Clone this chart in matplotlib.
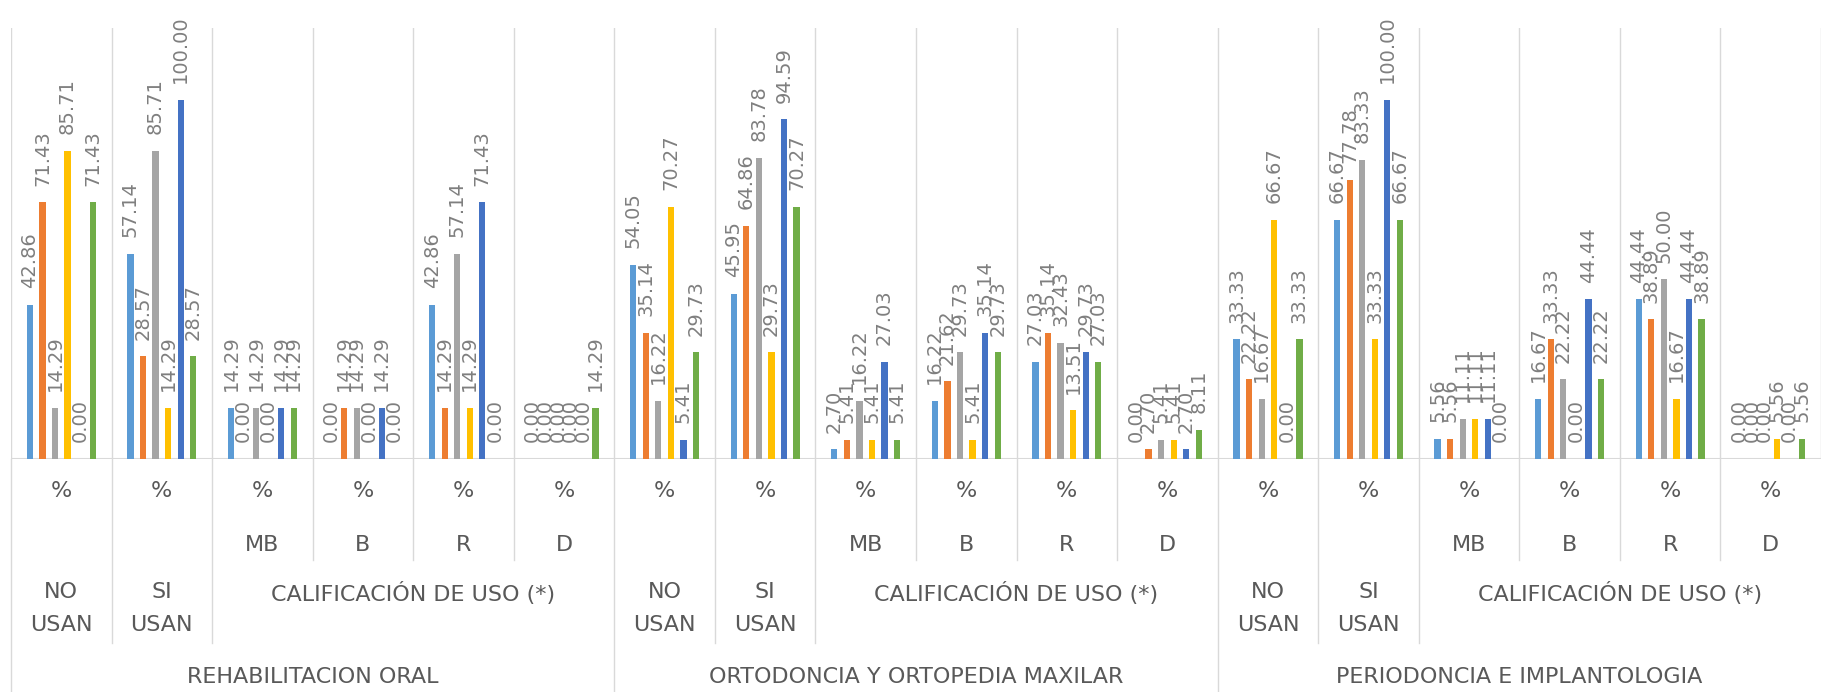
import numpy as np
import matplotlib
matplotlib.use("Agg")
import matplotlib.pyplot as plt
from matplotlib.transforms import blended_transform_factory
from matplotlib.lines import Line2D

specialties = ["REHABILITACION ORAL", "ORTODONCIA Y ORTOPEDIA MAXILAR", "PERIODONCIA E IMPLANTOLOGIA"]
uso_labels = ["NO\nUSAN", "SI\nUSAN", "CALIFICACIÓN DE USO (*)"]
calif_labels = ["", "", "MB", "B", "R", "D"]
unit_label = "%"

serie_1 = [42.86, 57.14, 14.29, 0.00, 42.86, 0.00, 54.05, 45.95, 2.70, 16.22, 27.03, 0.00, 33.33, 66.67, 5.56, 16.67, 44.44, 0.00]
serie_2 = [71.43, 28.57, 0.00, 14.29, 14.29, 0.00, 35.14, 64.86, 5.41, 21.62, 35.14, 2.70, 22.22, 77.78, 5.56, 33.33, 38.89, 0.00]
serie_3 = [14.29, 85.71, 14.29, 14.29, 57.14, 0.00, 16.22, 83.78, 16.22, 29.73, 32.43, 5.41, 16.67, 83.33, 11.11, 22.22, 50.00, 0.00]
serie_4 = [85.71, 14.29, 0.00, 0.00, 14.29, 0.00, 70.27, 29.73, 5.41, 5.41, 13.51, 5.41, 66.67, 33.33, 11.11, 0.00, 16.67, 5.56]
serie_5 = [0.00, 100.00, 14.29, 14.29, 71.43, 0.00, 5.41, 94.59, 27.03, 35.14, 29.73, 2.70, 0.00, 100.00, 11.11, 44.44, 44.44, 0.00]
serie_6 = [71.43, 28.57, 14.29, 0.00, 0.00, 14.29, 29.73, 70.27, 5.41, 29.73, 27.03, 8.11, 33.33, 66.67, 0.00, 22.22, 38.89, 5.56]

series = [serie_1, serie_2, serie_3, serie_4, serie_5, serie_6]
colors = ["#5B9BD5", "#ED7D31", "#A5A5A5", "#FFC000", "#4472C4", "#70AD47"]

W, H = 1821, 692
fig = plt.figure(figsize=(W / 100, H / 100), dpi=100)
ax = fig.add_axes([11 / W, 1 - 459 / H, 1810 / W, (459 - 28) / H])

n = len(serie_1)
x = np.arange(n) + 0.5
bw = 0.0625
for k, (vals, c) in enumerate(zip(series, colors)):
    pos = x + (k - 2.5) * 0.125
    ax.bar(pos, vals, width=bw, color=c, linewidth=0, zorder=3)
    for px, v in zip(pos, vals):
        ax.annotate(f"{v:.2f}", (px, v), xytext=(0, 12), textcoords="offset points",
                    rotation=90, ha="center", va="bottom", fontsize=14,
                    color="#7F7F7F", annotation_clip=False)

ax.set_xlim(0, n)
ax.set_ylim(0, 120)
for s in ax.spines.values():
    s.set_visible(False)
ax.set_xticks([])
ax.set_yticks([])

grid = "#D9D9D9"
for i in range(n + 1):
    ax.axvline(i, color=grid, lw=1, zorder=1)
ax.axhline(0, color=grid, lw=1.5, zorder=2)

# category axis below the plot
tr = blended_transform_factory(ax.transData, fig.transFigure)
def fy(p):
    return 1 - p / H

txt = dict(transform=tr, ha="center", color="#595959", fontsize=16, clip_on=False)
for i in range(n):
    sub = i % 6
    if sub == 0:
        bottom = H
    elif sub in (1, 2):
        bottom = 643
    else:
        bottom = 560
    ax.add_line(Line2D([i, i], [fy(459), fy(bottom)], transform=tr, color=grid, lw=1, clip_on=False))
    ax.text(i + 0.5, fy(491), unit_label, va="center", **txt)
    if calif_labels[sub]:
        ax.text(i + 0.5, fy(545), calif_labels[sub], va="center", **txt)

for j, sp in enumerate(specialties):
    base = j * 6
    ax.text(base + 0.5, fy(582), uso_labels[0], va="top", linespacing=1.8, **txt)
    ax.text(base + 1.5, fy(582), uso_labels[1], va="top", linespacing=1.8, **txt)
    ax.text(base + 4.0, fy(582), uso_labels[2], va="top", **txt)
    ax.text(base + 3.0, fy(677), sp, va="center", **txt)

fig.savefig("out.png", dpi=100)
